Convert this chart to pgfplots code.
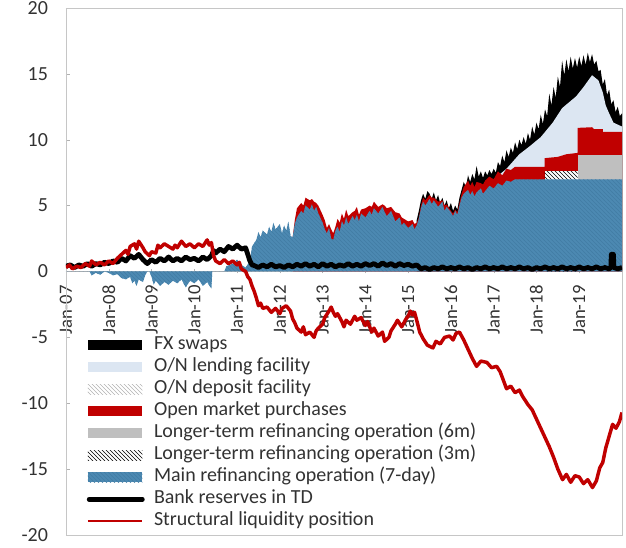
\documentclass[border=0pt]{standalone}
\usepackage{fontspec}
\setmainfont{Carlito}
\usepackage{pgfplots}
\pgfplotsset{compat=1.18}
\usetikzlibrary{patterns}
\definecolor{mro}{RGB}{76,137,178}
\definecolor{mrodark}{RGB}{66,124,164}
\definecolor{onl}{RGB}{220,230,242}
\definecolor{omp}{RGB}{192,0,0}
\definecolor{ltro6}{RGB}{191,191,191}
\definecolor{txt}{RGB}{50,50,50}
\pgfplotsset{
  arealeg/.style={legend image code/.code={\path[##1,draw=none] (0pt,-3.8pt) rectangle (41pt,3.8pt);}},
}
\newcommand{\tfont}{\fontsize{15}{17}\selectfont}
\newcommand{\xfont}{\fontsize{14}{16}\selectfont}
\begin{document}
\begin{tikzpicture}
% overlay axis carrying the x labels on the zero line
\begin{axis}[
  width=417pt, height=395.25pt, scale only axis,
  xmin=2007, xmax=2020, ymin=-20, ymax=20,
  axis x line=middle, axis y line=none,
  x axis line style={-, gray!60},
  xtick={2007,...,2019},
  xticklabels={Jan-07,Jan-08,Jan-09,Jan-10,Jan-11,Jan-12,Jan-13,Jan-14,Jan-15,Jan-16,Jan-17,Jan-18,Jan-19},
  xticklabel style={rotate=90, anchor=east, font=\xfont, text=txt, xshift=-5.5pt},
  ytick=\empty,
  tick style={gray!60}, major tick length=3pt,
]
\end{axis}
\begin{axis}[
  width=417pt, height=395.25pt, scale only axis,
  xmin=2007, xmax=2020, ymin=-20, ymax=20,
  xtick=\empty,
  ytick={-20,-15,...,20},
  /pgf/number format/assume math mode=true,
  yticklabel style={font=\tfont, text=txt, xshift=-10pt},
  axis line style={gray!45},
  tick style={gray!60}, tick align=inside, major tick length=3pt,
  ytick pos=left,
  legend cell align=left,
  legend style={at={(rel axis cs:0.037,0.3814)}, anchor=north west, draw=none, fill=none,
    inner sep=0pt, font=\tfont, text=txt, row sep=0pt,
    nodes={text height=9.5pt, text depth=2.5pt, inner ysep=2.25pt, inner xsep=3pt},
    /tikz/every odd column/.append style={column sep=4pt}},
]
% FX swaps (cumulative top)
\addplot[fill=black, draw=none, arealeg] coordinates {
(2015.20,3.9) (2015.25,4.6) (2015.30,5.4) (2015.35,5.9) (2015.40,5.5) (2015.45,6.1) (2015.50,5.9) (2015.55,5.5)
(2015.60,6.0) (2015.65,5.4) (2015.70,5.8) (2015.75,5.2) (2015.80,5.6) (2015.85,5.0) (2015.90,5.4) (2015.95,4.8)
(2016.00,5.2) (2016.05,4.6) (2016.10,5.0) (2016.15,4.7) (2016.20,5.6) (2016.25,6.2) (2016.30,6.8) (2016.35,6.4)
(2016.40,7.3) (2016.45,6.8) (2016.50,7.4) (2016.55,7.0) (2016.60,8.0) (2016.65,7.2) (2016.70,7.6) (2016.75,7.1)
(2016.80,7.6) (2016.85,7.3) (2016.90,7.7) (2016.95,7.4) (2017.00,7.8) (2017.05,7.5) (2017.10,8.3) (2017.15,8.0)
(2017.20,8.8) (2017.25,8.3) (2017.30,9.2) (2017.35,8.7) (2017.40,9.4) (2017.45,9.0) (2017.50,9.8) (2017.55,9.3)
(2017.60,10.0) (2017.65,9.6) (2017.70,10.2) (2017.75,9.7) (2017.80,10.5) (2017.85,10.0) (2017.90,11.0) (2017.95,10.4)
(2018.00,11.3) (2018.05,10.8) (2018.10,11.9) (2018.15,11.2) (2018.20,12.3) (2018.25,11.8) (2018.30,13.5) (2018.35,12.6)
(2018.40,14.0) (2018.45,13.2) (2018.50,14.8) (2018.55,14.0) (2018.60,16.0) (2018.65,14.9) (2018.70,16.1) (2018.75,15.2)
(2018.80,16.3) (2018.85,15.4) (2018.90,16.2) (2018.95,15.5) (2019.00,16.3) (2019.05,15.6) (2019.10,16.4) (2019.15,15.7)
(2019.20,16.6) (2019.25,15.9) (2019.30,16.5) (2019.35,15.7) (2019.40,16.0) (2019.45,15.2) (2019.50,15.3) (2019.55,14.2)
(2019.60,14.6) (2019.65,13.4) (2019.70,13.8) (2019.75,12.7) (2019.80,13.0) (2019.85,12.1) (2019.90,12.5) (2019.95,11.8)
(2020.00,12.0)} \closedcycle;
\addlegendentry{FX swaps}
% O/N lending facility (cumulative top)
\addplot[fill=onl, draw=none, arealeg] coordinates {
(2016.90,6.6) (2017.00,7.0) (2017.30,7.8) (2017.60,8.9) (2017.84,9.5) (2018.10,10.2) (2018.38,11.3) (2018.60,12.4)
(2018.93,13.3) (2019.10,14.0) (2019.30,14.9) (2019.45,14.5) (2019.55,13.6) (2019.62,12.6) (2019.70,12.0) (2019.80,11.3)
(2020.00,11.0)} \closedcycle;
\addlegendentry{O/N lending facility}
\addlegendimage{legend image code/.code={\path[draw=none, pattern=north west lines, pattern color=gray!60] (0pt,-3.8pt) rectangle (41pt,3.8pt);}}
\addlegendentry{O/N deposit facility}
% Open market purchases (cumulative top)
\addplot[fill=omp, draw=none, arealeg] coordinates {
(2012.30,2.6) (2012.35,3.9) (2012.40,4.8) (2012.50,5.2) (2012.55,5.0) (2012.60,5.6) (2012.70,5.4) (2012.75,5.5) (2012.80,5.3)
(2012.85,5.2) (2012.90,5.0) (2013.00,4.3) (2013.05,3.9) (2013.10,3.3) (2013.15,3.6) (2013.20,3.2) (2013.25,2.9)
(2013.30,3.4) (2013.35,4.0) (2013.40,3.7) (2013.45,4.4) (2013.50,4.0) (2013.55,4.7) (2013.60,4.2) (2013.70,4.5)
(2013.75,4.6) (2013.80,4.9) (2013.85,4.3) (2013.90,4.7) (2014.00,4.8) (2014.10,5.0) (2014.15,4.9) (2014.20,5.3)
(2014.30,4.9) (2014.40,5.1) (2014.45,5.0) (2014.50,4.8) (2014.60,4.9) (2014.70,4.5) (2014.80,4.4) (2014.85,4.1)
(2014.90,4.0) (2015.00,3.8) (2015.10,3.9) (2015.15,3.6) (2015.20,3.7) (2015.25,4.1) (2015.30,5.0) (2015.35,5.6)
(2015.40,5.4) (2015.50,5.8) (2015.55,5.6) (2015.60,5.6) (2015.70,5.3) (2015.80,5.4) (2015.85,5.0) (2015.90,5.1)
(2016.00,4.6) (2016.05,4.4) (2016.10,4.7) (2016.15,4.5) (2016.20,5.2) (2016.25,5.9) (2016.30,6.4) (2016.40,6.9)
(2016.45,6.5) (2016.50,6.8) (2016.55,6.4) (2016.60,6.8) (2016.70,6.7) (2016.75,6.6) (2016.80,6.9) (2016.90,7.2)
(2017.00,7.0) (2017.10,7.6) (2017.20,7.3) (2017.30,7.8) (2017.40,7.7) (2017.50,7.95) (2018.19,7.95) (2018.19,8.6)
(2018.50,8.7) (2018.70,8.9) (2018.96,9.0) (2018.96,10.9) (2019.30,10.95) (2019.35,10.8) (2019.55,10.8) (2019.55,10.6)
(2020.00,10.6)} \closedcycle;
\addlegendentry{Open market purchases}
% LTRO 6m (cumulative top)
\addplot[fill=ltro6, draw=none, arealeg] coordinates {(2018.96,8.85) (2020.00,8.85)} \closedcycle;
\addlegendentry{Longer-term refinancing operation (6m)}
% LTRO 3m (cumulative top)
\addplot[fill=white, postaction={pattern=north west lines, pattern color=black}, draw=none, arealeg] coordinates {(2018.19,7.6) (2018.96,7.6)} \closedcycle;
\addlegendentry{Longer-term refinancing operation (3m)}
% Main refinancing operation
\addplot[fill=mro, postaction={pattern=north west lines, pattern color=mrodark}, draw=none, arealeg] coordinates {
(2007.00,0) (2007.55,0) (2007.60,-0.3) (2007.70,-0.1) (2007.80,-0.25) (2007.90,0) (2008.00,-0.1) (2008.10,-0.3)
(2008.20,-0.2) (2008.30,-0.5) (2008.40,-0.6) (2008.50,-0.4) (2008.55,-0.9) (2008.60,-0.7) (2008.65,-1.1) (2008.70,-0.6)
(2008.80,-0.8) (2008.85,-0.3) (2008.90,0) (2008.95,0) (2009.00,-0.4) (2009.05,-1.0) (2009.10,-0.7) (2009.20,-1.1)
(2009.30,-0.8) (2009.40,-1.0) (2009.50,-0.7) (2009.60,-0.9) (2009.70,-0.6) (2009.80,-1.2) (2009.90,-0.7) (2010.00,-0.9)
(2010.10,-0.6) (2010.20,-1.1) (2010.30,-0.8) (2010.40,-1.3) (2010.42,0) (2010.70,0) (2010.75,0.4) (2010.90,0.6)
(2011.00,0.9) (2011.10,0.5) (2011.20,0.3) (2011.30,0.8) (2011.35,1.9) (2011.45,2.4) (2011.50,3.0) (2011.55,2.6)
(2011.60,3.1) (2011.70,2.8) (2011.75,3.4) (2011.80,3.0) (2011.85,3.7) (2011.90,3.2) (2012.00,3.6) (2012.05,2.9)
(2012.10,3.5) (2012.15,3.1) (2012.20,3.8) (2012.25,2.7) (2012.30,2.6) (2012.35,3.6) (2012.40,4.1) (2012.50,4.6)
(2012.55,4.4) (2012.60,5.0) (2012.70,4.7) (2012.75,5.1) (2012.80,4.6) (2012.85,4.9) (2012.90,4.4) (2013.00,3.7)
(2013.05,3.2) (2013.10,2.9) (2013.15,3.3) (2013.20,2.5) (2013.25,2.4) (2013.30,3.1) (2013.35,3.4) (2013.40,3.0)
(2013.45,3.8) (2013.50,3.5) (2013.55,4.1) (2013.60,3.6) (2013.70,4.2) (2013.75,3.9) (2013.80,4.3) (2013.85,3.8)
(2013.90,4.4) (2014.00,4.1) (2014.10,4.6) (2014.15,4.3) (2014.20,4.8) (2014.30,4.4) (2014.40,4.9) (2014.45,4.5)
(2014.50,4.2) (2014.60,4.6) (2014.70,3.8) (2014.80,4.1) (2014.85,3.5) (2014.90,3.7) (2015.00,3.3) (2015.10,3.6)
(2015.15,3.2) (2015.20,3.5) (2015.25,4.0) (2015.30,4.8) (2015.35,5.3) (2015.40,5.0) (2015.50,5.5) (2015.55,5.1)
(2015.60,5.4) (2015.70,4.9) (2015.80,5.3) (2015.85,4.6) (2015.90,4.9) (2016.00,4.5) (2016.05,4.2) (2016.10,4.6)
(2016.15,4.3) (2016.20,5.0) (2016.25,5.6) (2016.30,5.9) (2016.40,6.2) (2016.45,5.8) (2016.50,6.1) (2016.55,5.7)
(2016.60,6.0) (2016.70,6.3) (2016.75,5.9) (2016.80,6.1) (2016.90,6.5) (2017.00,6.3) (2017.10,6.7) (2017.20,6.5)
(2017.30,6.9) (2017.40,6.8) (2017.50,7.0) (2020.00,7.0)} \closedcycle;
\addlegendentry{Main refinancing operation (7-day)}
% Bank reserves in TD
\addplot[black, line width=3.6pt, line join=round,
  legend image code/.code={\draw[black,line width=3.4pt,line cap=round] (1pt,0pt) -- (41pt,0pt);}] coordinates {
(2007.0,0.4) (2007.1,0.5) (2007.2,0.3) (2007.3,0.5) (2007.4,0.4) (2007.5,0.6) (2007.6,0.4) (2007.7,0.6) (2007.8,0.5)
(2007.9,0.7) (2008.0,0.6) (2008.1,0.8) (2008.2,0.7) (2008.3,1.0) (2008.4,0.8) (2008.5,1.2) (2008.6,1.0) (2008.7,1.3)
(2008.8,0.9) (2008.9,0.6) (2009.0,0.9) (2009.1,0.7) (2009.2,1.0) (2009.3,0.8) (2009.4,1.1) (2009.5,0.8) (2009.6,1.0)
(2009.7,0.8) (2009.8,1.1) (2009.9,0.9) (2010.0,1.0) (2010.1,0.8) (2010.2,1.1) (2010.3,0.9) (2010.4,1.2) (2010.45,1.6)
(2010.5,1.4) (2010.6,1.7) (2010.7,1.5) (2010.8,1.9) (2010.9,1.7) (2011.0,2.0) (2011.1,1.7) (2011.2,1.8) (2011.25,1.3)
(2011.3,0.8) (2011.35,0.5) (2011.4,0.45) (2011.5,0.3) (2011.6,0.5) (2011.7,0.35) (2011.8,0.55) (2011.9,0.35)
(2012.0,0.45) (2012.1,0.3) (2012.2,0.5) (2012.3,0.35) (2012.4,0.55) (2012.5,0.4) (2012.6,0.6) (2012.7,0.4)
(2012.8,0.55) (2012.9,0.35) (2013.0,0.6) (2013.1,0.4) (2013.2,0.55) (2013.3,0.35) (2013.4,0.5) (2013.5,0.4)
(2013.6,0.6) (2013.7,0.4) (2013.8,0.55) (2013.9,0.4) (2014.0,0.6) (2014.1,0.45) (2014.2,0.6) (2014.3,0.4)
(2014.4,0.65) (2014.5,0.45) (2014.6,0.6) (2014.7,0.4) (2014.8,0.6) (2014.9,0.45) (2015.0,0.55) (2015.1,0.4)
(2015.2,0.5) (2015.3,0.2) (2015.4,0.3) (2015.5,0.15) (2015.6,0.3) (2015.7,0.2) (2015.8,0.35) (2015.9,0.2)
(2016.0,0.3) (2016.1,0.2) (2016.2,0.35) (2016.3,0.2) (2016.4,0.3) (2016.5,0.15) (2016.6,0.3) (2016.7,0.2)
(2016.8,0.35) (2016.9,0.2) (2017.0,0.3) (2017.1,0.2) (2017.2,0.35) (2017.3,0.2) (2017.4,0.3) (2017.5,0.2)
(2017.6,0.35) (2017.7,0.2) (2017.8,0.3) (2017.9,0.15) (2018.0,0.3) (2018.1,0.2) (2018.2,0.35) (2018.3,0.2)
(2018.4,0.3) (2018.5,0.2) (2018.6,0.35) (2018.7,0.2) (2018.8,0.3) (2018.9,0.2) (2019.0,0.35) (2019.1,0.2)
(2019.2,0.3) (2019.3,0.2) (2019.4,0.35) (2019.5,0.2) (2019.6,0.3) (2019.7,0.2) (2019.74,0.3) (2019.75,1.3)
(2019.80,1.3) (2019.81,0.3) (2019.9,0.2) (2020.0,0.3)};
\addlegendentry{Bank reserves in TD}
% Structural liquidity position
\addplot[omp, line width=2.6pt, line join=round,
  legend image code/.code={\draw[omp,line width=1.4pt] (0pt,0pt) -- (41pt,0pt);}] coordinates {
(2007.00,0.3) (2007.08,0.5) (2007.15,0.2) (2007.25,0.4) (2007.35,0.3) (2007.45,0.6) (2007.55,0.4) (2007.60,0.8)
(2007.70,0.5) (2007.80,0.7) (2007.90,0.5) (2008.00,0.8) (2008.10,0.6) (2008.20,1.0) (2008.30,1.3) (2008.40,1.6)
(2008.45,1.3) (2008.50,1.9) (2008.60,2.1) (2008.65,1.7) (2008.70,2.3) (2008.80,1.8) (2008.85,1.5) (2008.95,1.2)
(2009.00,1.5) (2009.10,1.4) (2009.15,2.0) (2009.20,1.8) (2009.30,2.1) (2009.40,1.9) (2009.50,1.7) (2009.55,2.0)
(2009.60,1.8) (2009.70,2.3) (2009.80,1.9) (2009.90,2.1) (2010.00,1.8) (2010.10,2.1) (2010.20,1.9) (2010.30,2.4)
(2010.35,2.0) (2010.40,2.2) (2010.45,1.2) (2010.50,0.8) (2010.60,0.6) (2010.70,0.9) (2010.80,0.6) (2010.90,0.8)
(2011.00,0.5) (2011.05,0.7) (2011.10,0.2) (2011.20,0.0) (2011.25,-0.4) (2011.30,-0.6) (2011.35,-1.1) (2011.40,-1.5)
(2011.45,-2.0) (2011.50,-2.6) (2011.55,-2.4) (2011.60,-2.8) (2011.70,-2.7) (2011.80,-3.1) (2011.90,-2.8) (2012.00,-3.2)
(2012.05,-2.8) (2012.15,-2.6) (2012.25,-3.0) (2012.30,-3.6) (2012.35,-3.9) (2012.40,-4.3) (2012.50,-4.6) (2012.55,-4.2)
(2012.60,-4.8) (2012.70,-4.6) (2012.80,-5.0) (2012.85,-4.5) (2012.90,-4.3) (2013.00,-4.0) (2013.05,-3.5) (2013.15,-3.0)
(2013.20,-2.7) (2013.25,-3.1) (2013.30,-3.4) (2013.35,-3.2) (2013.45,-3.8) (2013.50,-4.2) (2013.55,-3.7) (2013.65,-4.0)
(2013.75,-3.4) (2013.80,-3.7) (2013.90,-3.5) (2014.00,-4.1) (2014.05,-3.8) (2014.15,-4.6) (2014.20,-4.3) (2014.30,-4.9)
(2014.40,-4.6) (2014.45,-5.3) (2014.55,-5.0) (2014.60,-4.5) (2014.70,-4.0) (2014.75,-3.7) (2014.85,-4.2) (2014.95,-3.6)
(2015.00,-3.4) (2015.05,-3.0) (2015.10,-3.3) (2015.15,-3.1) (2015.20,-3.7) (2015.27,-4.6) (2015.35,-5.1) (2015.45,-5.6)
(2015.58,-5.8) (2015.65,-5.3) (2015.75,-5.5) (2015.85,-5.0) (2015.97,-4.9) (2016.05,-5.2) (2016.12,-4.7) (2016.20,-4.6)
(2016.30,-5.2) (2016.40,-5.9) (2016.50,-6.6) (2016.60,-7.2) (2016.70,-6.8) (2016.84,-6.9) (2016.95,-7.3) (2017.07,-7.2)
(2017.15,-7.6) (2017.22,-8.2) (2017.30,-8.9) (2017.40,-8.7) (2017.50,-9.2) (2017.60,-9.0) (2017.68,-9.5) (2017.80,-10.1)
(2017.90,-10.5) (2018.00,-11.2) (2018.10,-11.9) (2018.20,-12.6) (2018.30,-13.3) (2018.40,-14.1) (2018.50,-15.0) (2018.61,-15.8)
(2018.70,-15.4) (2018.80,-16.0) (2018.90,-15.5) (2019.00,-15.6) (2019.10,-16.1) (2019.20,-15.8) (2019.31,-16.4) (2019.40,-15.9)
(2019.48,-14.9) (2019.55,-14.5) (2019.62,-13.4) (2019.70,-12.5) (2019.78,-11.6) (2019.86,-11.9) (2019.94,-11.4) (2020.00,-10.7)};
\addlegendentry{Structural liquidity position}
\coordinate (sw) at (rel axis cs:0,0);
\coordinate (ne) at (rel axis cs:1,1);
\end{axis}
\pgfresetboundingbox
\path[use as bounding box] ([xshift=-49.5pt,yshift=-9.75pt]sw) rectangle ([xshift=3pt,yshift=6pt]ne);
\end{tikzpicture}
\end{document}
